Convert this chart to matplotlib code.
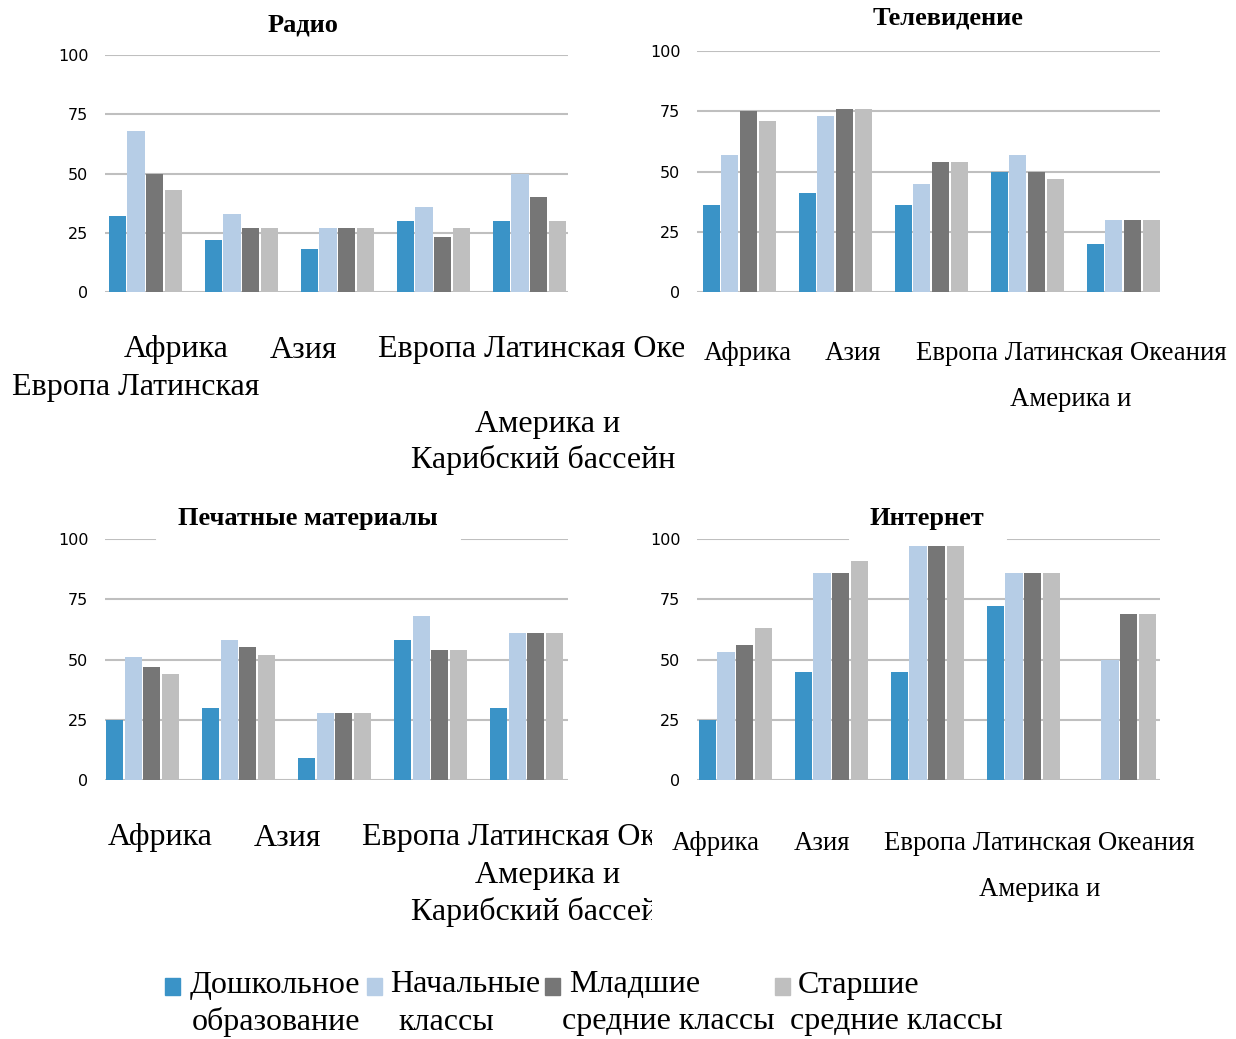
import matplotlib.pyplot as plt
from matplotlib.patches import Rectangle
from matplotlib.transforms import Bbox

# Categories and series
categories = ['Африка', 'Азия', 'Европа', 'Латинская Америка и Карибский бассейн', 'Океания']
series_labels = ['Дошкольное образование', 'Начальные классы',
                 'Младшие средние классы', 'Старшие средние классы']
colors = ['#3A93C7', '#B6CDE6', '#767676', '#BFBFBF']
yticks = [0, 25, 50, 75, 100]

# values per series (one row per series, one value per category)
radio = [[32, 22, 18, 30, 30],
         [68, 33, 27, 36, 50],
         [50, 27, 27, 23, 40],
         [43, 27, 27, 27, 30]]
tv = [[36, 41, 36, 50, 20],
      [57, 73, 45, 57, 30],
      [75, 76, 54, 50, 30],
      [71, 76, 54, 47, 30]]
printed = [[25, 30, 9, 58, 30],
           [51, 58, 28, 68, 61],
           [47, 55, 28, 54, 61],
           [44, 52, 28, 54, 61]]
internet = [[25, 45, 45, 72, 0],
            [53, 86, 97, 86, 50],
            [56, 86, 97, 86, 69],
            [63, 91, 97, 86, 69]]

W, H = 1236, 1039
fig = plt.figure(figsize=(W / 100, H / 100), dpi=100)
serif = 'Liberation Serif'


def fx(x):
    return x / W


def fy(y):
    return 1 - y / H


def panel(left, right, y0, y100, values, x0, gap=None):
    ax = fig.add_axes([fx(left), fy(y0), (right - left) / W, (y0 - y100) / H])
    for j, vals in enumerate(values):
        xs = [i + (j - 1.5) * 0.195 for i in range(len(categories))]
        ax.bar(xs, vals, width=0.178, color=colors[j], zorder=3)
    for t in yticks:
        if t == 100 and gap is not None:
            ax.axhline(t, 0, gap[0], color='#BFBFBF', lw=1.5, zorder=1)
            ax.axhline(t, gap[1], 1, color='#BFBFBF', lw=1.5, zorder=1)
        else:
            ax.axhline(t, color='#BFBFBF', lw=1.5, zorder=1)
    ax.set_xlim(x0, x0 + (right - left) / 96)
    ax.set_ylim(0, 100)
    ax.set_yticks(yticks)
    ax.set_xticks([])
    ax.tick_params(axis='y', length=0, pad=12, labelsize=11.5)
    for s in ax.spines.values():
        s.set_visible(False)
    return ax


panel(105, 568, 292, 55, radio, -0.42)
panel(697, 1160, 292, 51, tv, -0.44)
panel(105, 568, 780, 539, printed, -0.39, gap=((155 - 105) / 463, (462 - 105) / 463))
panel(697, 1160, 780, 539, internet, -0.40, gap=((848 - 697) / 463, (1008 - 697) / 463))

# Titles
for title, x, y in [('Радио', 303, 25), ('Телевидение', 948, 18),
                    ('Печатные материалы', 308, 518), ('Интернет', 927, 518)]:
    fig.text(fx(x), fy(y), title, ha='center', va='center', family=serif,
             weight='bold', fontsize=19)


def label(s, x, y, size, ha='left', clip=None):
    t = fig.text(fx(x), fy(y), s, ha=ha, va='center', family=serif, fontsize=size)
    if clip is not None:
        t.set_clip_box(Bbox.from_extents(0, 0, clip, H))
        t.set_clip_on(True)
    return t


eu, oc = categories[2], categories[4]
la1, la2 = 'Латинская', 'Америка и'
la3 = 'Карибский бассейн'
row = f'{eu} {la1} {oc}'
big, small = 23, 19.3

# Radio category labels (the last one is cut off at the panel edge)
label(categories[0], 176, 350, big, ha='center')
label(categories[1], 303, 350, big, ha='center')
label(row[:20], 378, 350, big, clip=684)
label(f'{eu} {la1}', 12, 387, big)
label(la2, 548, 424, big, ha='center')
label(la3, 543, 460, big, ha='center')

# TV category labels
label(categories[0], 748, 354, small, ha='center')
label(categories[1], 853, 354, small, ha='center')
label(row, 916, 354, small)
label(la2, 1071, 400, small, ha='center')

# Print category labels
label(categories[0], 160, 838, big, ha='center')
label(categories[1], 288, 838, big, ha='center')
label(row[:19], 362, 838, big, clip=652)
label(la2, 548, 875, big, ha='center')
label(la3, 411, 912, big, clip=652)

# Internet category labels
label(categories[0], 716, 844, small, ha='center')
label(categories[1], 822, 844, small, ha='center')
label(row, 884, 844, small)
label(la2, 1040, 890, small, ha='center')

# Legend
sq_x = [165, 367, 545, 775]
l1_x = [190, 390, 569, 798]
l2_x = [192, 398, 562, 790]
for j, name in enumerate(series_labels):
    first, second = name.split(' ', 1)
    fig.add_artist(Rectangle((fx(sq_x[j]), fy(995)), 15 / W, 17 / H,
                             transform=fig.transFigure, color=colors[j]))
    label(first, l1_x[j], 985, big)
    label(second, l2_x[j], 1022, big)

plt.savefig('out.png', dpi=100)
